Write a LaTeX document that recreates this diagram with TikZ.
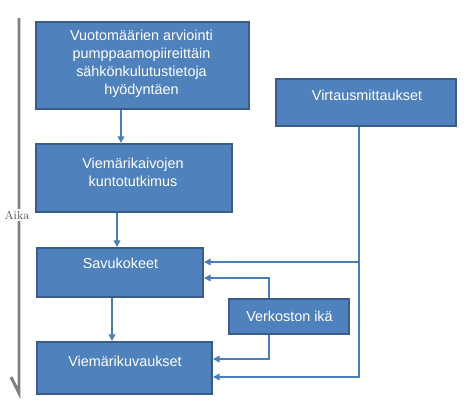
\documentclass[tikz,border=0pt]{standalone}
\usepackage{fontspec}
\setmainfont{Liberation Sans}
\usetikzlibrary{arrows.meta}
\definecolor{boxfill}{HTML}{4F81BD}
\definecolor{boxedge}{HTML}{385D8A}
\definecolor{connc}{HTML}{4A7EBB}
\definecolor{axisc}{HTML}{808080}
\tikzset{
  box/.style={draw=boxedge, fill=boxfill, line width=1.5pt, inner sep=0pt},
  boxtext/.style={text=white, font=\fontsize{10.8}{13.5}\selectfont, align=center, inner sep=0pt},
  conn/.style={draw=connc, line width=1.1pt},
  arr/.style={conn, -{Triangle[length=5pt,width=5pt]}},
}
\begin{document}
\begin{tikzpicture}[x=0.75pt,y=-0.75pt]
\useasboundingbox (0,0) rectangle (476,401);
% time axis
\draw[axisc, line width=2.2pt] (19,18) -- (19,393) -- (11,377);
\node[fill=white, inner sep=1pt, text=axisc!70!black, font=\fontspec{Latin Modern Roman}\fontsize{8.8}{10}\selectfont] (aika) at (17,215) {Aika};
% boxes
\node[box, minimum width=213*0.75pt, minimum height=87*0.75pt] (b1) at (142.5,65.5) {};
\node[boxtext] (t1) at (141.5,64) {Vuotomäärien arviointi\\pumppaamopiireittäin\\sähkönkulutustietoja\\hyödyntäen};
\node[box, minimum width=196*0.75pt, minimum height=68*0.75pt] (b2) at (134,178) {};
\node[boxtext] (t2) at (133,172) {Viemärikaivojen\\kuntotutkimus};
\node[box, minimum width=166*0.75pt, minimum height=49*0.75pt] (savu) at (120,272.5) {};
\node[boxtext] (t3) at (120.5,263) {Savukokeet};
\node[box, minimum width=175*0.75pt, minimum height=52*0.75pt] (viem) at (124.5,368) {};
\node[boxtext] (t4) at (125,361) {Viemärikuvaukset};
\node[box, minimum width=180*0.75pt, minimum height=47*0.75pt] (virt) at (366,102.5) {};
\node[boxtext] (t5) at (367,95) {Virtausmittaukset};
\node[box, minimum width=120*0.75pt, minimum height=35*0.75pt] (verk) at (289,316.5) {};
\node[boxtext] (t6) at (289.5,316) {Verkoston ikä};
% helper coordinates
\coordinate (x1) at (121,0);
\coordinate (x2) at (117,0);
\coordinate (x3) at (112,0);
\coordinate (vj1) at (359,262);
\coordinate (vj2) at (359,377);
\coordinate (vk1) at (269,278);
\coordinate (vk2) at (269,359);
% connectors
\draw[arr] (b1.south -| x1) -- (b2.north -| x1);
\draw[arr] (b2.south -| x2) -- (savu.north -| x2);
\draw[arr] (savu.south -| x3) -- (viem.north -| x3);
\draw[arr] (virt.south -| vj2) -- (vj2) -- (vj2 -| viem.east);
\draw[arr] (vj1) -- (vj1 -| savu.east);
\draw[arr] (verk.north -| vk1) -- (vk1) -- (vk1 -| savu.east);
\draw[arr] (verk.south -| vk2) -- (vk2) -- (vk2 -| viem.east);
\end{tikzpicture}
\end{document}
